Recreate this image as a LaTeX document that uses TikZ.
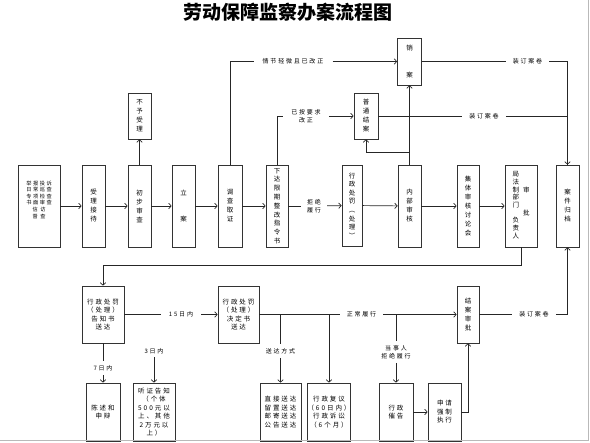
\documentclass[tikz,border=0pt]{standalone}
\usepackage{fontspec}
\newfontfamily\cjk{Noto Sans CJK SC}
\newfontfamily\cjkwide{Noto Sans CJK SC}[LetterSpace=30]
\usetikzlibrary{arrows.meta, positioning}

\begin{document}
\begin{tikzpicture}[
    x=1pt, y=-1pt,
    box/.style={rectangle, draw=black!80, line width=0.7pt, inner sep=0pt, minimum width=23pt, minimum height=82pt, align=center, font=\cjk\fontsize{6.5}{9}\selectfont},
    lowbox/.style={box, minimum width=42pt, minimum height=57pt, font=\cjkwide\fontsize{6.5}{8.5}\selectfont},
    arrow/.style={-{Straight Barb[length=2.5pt, width=5.5pt]}, line width=0.7pt, draw=black!85},
    line/.style={line width=0.7pt, draw=black!85},
    note/.style={inner xsep=7pt, inner ysep=3pt, align=center, font=\cjkwide\fontsize{6}{8}\selectfont}
]
\useasboundingbox (0,0) rectangle (590,443);

% title
\node[font=\cjk\bfseries\fontsize{19}{19}\selectfont] (title) at (288,12) {劳动保障监察办案流程图};

% === main row ===
\node[box, minimum width=42pt, text depth=13pt, font=\cjkwide\fontsize{5.2}{6.6}\selectfont] (src) at (39,206) {举报投诉\\日常巡查\\专项检查\\书面审查\\信\enspace 访\\督\enspace 查};
\node[box] (reg) at (93.5,206) {受\\理\\接\\待};
\node[box] (chk) at (139.5,206) {初\\步\\审\\查};
\node[box] (fil) at (183.5,206) {立\\[17pt]案};
\node[box, minimum width=24pt] (inv) at (230,206) {调\\查\\取\\证};
\node[box, minimum width=22pt, font=\cjk\fontsize{6.5}{8.8}\selectfont] (ord) at (277,206) {下\\达\\限\\期\\整\\改\\指\\令\\书};
\node[box, minimum width=20pt, minimum height=81pt, font=\cjk\fontsize{6.5}{8.6}\selectfont] (pun) at (352,205.5) {行\\政\\处\\罚\\︵\\处\\理\\︶};
\node[box] (rev) at (409.5,206) {内\\部\\审\\核};
\node[box, minimum width=22pt] (grp) at (468,206) {集\\体\\审\\核\\讨\\论\\会};
\node[box, minimum width=32pt, font=\cjk\fontsize{6.5}{7.3}\selectfont] (apv) at (521,206) {\begin{tabular}{@{}c@{\hspace{4pt}}c@{}}局&\\法&\\制&审\\部&\\门&\\&批\\负&\\责&\\人&\end{tabular}};
\node[box] (archv) at (567.5,206) {案\\件\\归\\档};

% === upper branches ===
\node[box, minimum height=46pt] (rej) at (139.5,116) {不\\予\\受\\理};
\node[box, minimum width=24pt, minimum height=47pt] (cls) at (409.5,61.5) {销\\[18pt]案};
\node[box, minimum width=24pt, minimum height=46pt] (nrm) at (366,116) {普\\通\\结\\案};

\node[note, inner xsep=9pt] (minor) at (293,61.5) {情节轻微且已改正};
\node[note, inner xsep=8pt] (fixed) at (306,116) {已按要求\\改正};
\node[note] (bind1) at (527.5,61.5) {装订案卷};
\node[note] (bind2) at (484,116) {装订案卷};
\node[note, inner xsep=6pt] (refuse) at (314,206) {拒绝\\履行};

% === lower rows ===
\node[lowbox] (ntc) at (103,314.5) {行政处罚\\（处理）\\告知书\\送达};
\node[lowbox, minimum width=41pt] (dec) at (238.5,314.5) {行政处罚\\（处理）\\决定书\\送达};
\node[box, minimum width=22pt, minimum height=57pt] (fin) at (468,314.5) {结\\案\\审\\批};

\node[lowbox, minimum width=34pt, minimum height=58pt] (plea) at (103,412) {陈述和\\申辩};
\node[lowbox, minimum height=58pt] (hear) at (154,412) {听证告知\\（个体\\500元以\\上、其他\\2万元以\\上）};
\node[lowbox, minimum width=41pt, minimum height=58pt] (serv) at (280.5,412) {直接送达\\留置送达\\邮寄送达\\公告送达};
\node[lowbox, minimum height=58pt] (appl) at (329,412) {行政复议\\（60日内）\\行政诉讼\\（6个月）};
\node[lowbox, minimum width=34pt, minimum height=58pt] (urge) at (396,412) {行政\\催告};
\node[lowbox, minimum width=33pt, minimum height=58pt] (enf) at (444.5,412) {申请\\强制\\执行};

\node[note, inner xsep=8pt] (d15) at (181,314.5) {15日内};
\node[note] (ok) at (361.5,314.5) {正常履行};
\node[note] (bind3) at (534,314.5) {装订案卷};
\node[note, inner ysep=4pt] (way) at (280.5,351) {送达方式};
\node[note, inner ysep=4pt] (party) at (396,352) {当事人\\拒绝履行};
\node[note, inner ysep=4pt] (d7) at (103,368) {7日内};
\node[note] (d3) at (154,351) {3日内};

\coordinate (kup) at (409.5,152);
\coordinate (back) at (521,265);
\coordinate (j1) at (280.5,314.5);
\coordinate (j2) at (329,314.5);
\coordinate (j3) at (396,314.5);

% main flow
\draw[arrow] (src) -- (reg);
\draw[arrow] (reg) -- (chk);
\draw[arrow] (chk) -- (fil);
\draw[arrow] (fil) -- (inv);
\draw[arrow] (inv) -- (ord);
\draw[line] (ord) -- (refuse);
\draw[arrow] (refuse) -- (pun);
\draw[arrow] (pun) -- (rev);
\draw[arrow] (rev) -- (grp);
\draw[arrow] (grp) -- (apv);
\draw[arrow] (chk) -- (rej);

% closing branches
\draw[line] (inv) |- (minor);
\draw[arrow] (minor) -- (cls);
\draw[line] (cls) -- (bind1);
\draw[arrow] (bind1) -| (archv);
\draw[line] (ord) |- (fixed);
\draw[arrow] (fixed) -- (nrm);
\draw[line] (nrm) -- (bind2);
\draw[line] (bind2) -| (archv.north);
\draw[arrow] (rev) -- (cls);
\draw[arrow] (kup) -| (nrm);

% penalty flow
\draw[arrow] (apv) -- (back) -| (ntc);
\draw[line] (ntc) -- (d15);
\draw[arrow] (d15) -- (dec);
\draw[line] (dec) -- (ok);
\draw[arrow] (ok) -- (fin);
\draw[line] (fin) -- (bind3);
\draw[arrow] (bind3) -| (archv);
\draw[line] (j1) -- (way);
\draw[arrow] (way) -- (serv);
\draw[arrow] (j2) -- (appl);
\draw[line] (j3) -- (party);
\draw[arrow] (party) -- (urge);
\draw[line] (ntc) -- (d7);
\draw[arrow] (d7) -- (plea);
\draw[arrow] (d3) -- (hear);
\draw[arrow] (urge) -- (enf);
\draw[arrow] (enf) -| (fin);

% page edge
\draw[gray!55, line width=1pt] (0,441) -- (588,441) -- (588,0);

\end{tikzpicture}
\end{document}
